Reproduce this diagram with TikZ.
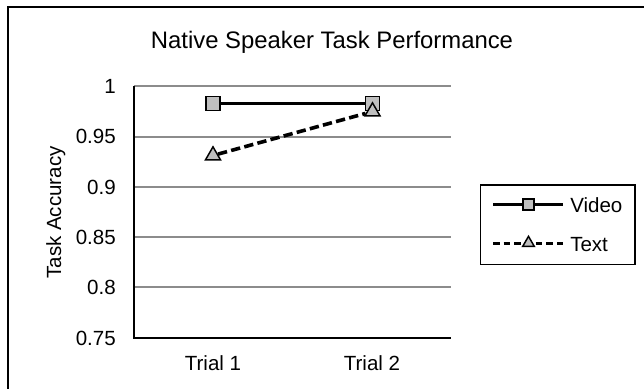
\documentclass[tikz,border=0pt]{standalone}
\usepackage{fontspec}
\setmainfont{Liberation Sans}
\usetikzlibrary{shapes.geometric}

\definecolor{gridgray}{HTML}{8C8C8C}
\definecolor{markgray}{HTML}{BFBFBF}

\tikzset{
  lab/.style={font=\fontsize{15.4pt}{18pt}\selectfont, inner sep=0pt},
  vidmark/.style={rectangle, draw=black, fill=markgray, line width=1.1pt, inner sep=0pt, minimum size=10.5pt},
  txtmark/.style={regular polygon, regular polygon sides=3, draw=black, fill=markgray, line width=1.1pt, inner sep=0pt, minimum size=13pt},
  vidline/.style={line width=2.7pt},
  txtline/.style={line width=2.7pt, dash pattern=on 7pt off 3.2pt}
}

\begin{document}
\begin{tikzpicture}[x=0.75pt,y=-0.75pt]
  \useasboundingbox (0,0) rectangle (644,389);
  % Rahmen (rechts und unten abgeschnitten)
  \draw[line width=1.5pt] (8,389) -- (8,7) -- (644,7);

  % Titel
  \node[lab, font=\fontsize{17.9pt}{21pt}\selectfont, anchor=base] (title) at (332,48) {Native Speaker Task Performance};

  % Gitterlinien und Beschriftung der y-Achse
  \foreach \lab [count=\i from 0] in {0.75,0.8,0.85,0.9,0.95,1} {
    \ifnum\i>0
      \draw[gridgray, line width=1.5pt] (134,337.7-\i*50.3) -- (451,337.7-\i*50.3);
    \fi
    \node[lab, anchor=base east] (tick\i) at (116,345-\i*50.3) {\lab};
  }
  % Achsen
  \draw[line width=1.6pt] (134,86.2) -- (134,337.7) -- (451,337.7);
  \node[lab, rotate=90, anchor=base] (ylab) at (61,212.5) {Task Accuracy};
  \node[lab, anchor=base] (trial1) at (213,370) {Trial 1};
  \node[lab, anchor=base] (trial2) at (372,370) {Trial 2};

  % Reihe Video
  \node[vidmark] (v1) at (213,103.5) {};
  \node[vidmark] (v2) at (372.5,103.5) {};
  \draw[vidline] (v1) -- (v2);
  % Reihe Text
  \node[txtmark] (t1) at (213,155.5) {};
  \node[txtmark] (t2) at (372.5,111.5) {};
  \draw[txtline] (t1) -- (t2);

  % Legende
  \draw[line width=1.1pt] (480.7,185) rectangle (635,264.3);
  \coordinate (vl0) at (493,204.5);
  \coordinate (vl1) at (563,204.5);
  \node[vidmark, minimum size=8.3pt] (vkey) at (528.5,204.5) {};
  \draw[vidline] (vl0) -- (vkey) -- (vl1);
  \node[lab, anchor=base west] (vtext) at (570,212) {Video};
  \coordinate (tl0) at (493,243.5);
  \coordinate (tl1) at (563,243.5);
  \draw[txtline, dash pattern=on 5pt off 3pt] (tl0) -- (tl1);
  \node[txtmark, minimum size=10pt] (tkey) at (528.5,243) {};
  \node[lab, anchor=base west] (ttext) at (570,251) {Text};
\end{tikzpicture}
\end{document}
